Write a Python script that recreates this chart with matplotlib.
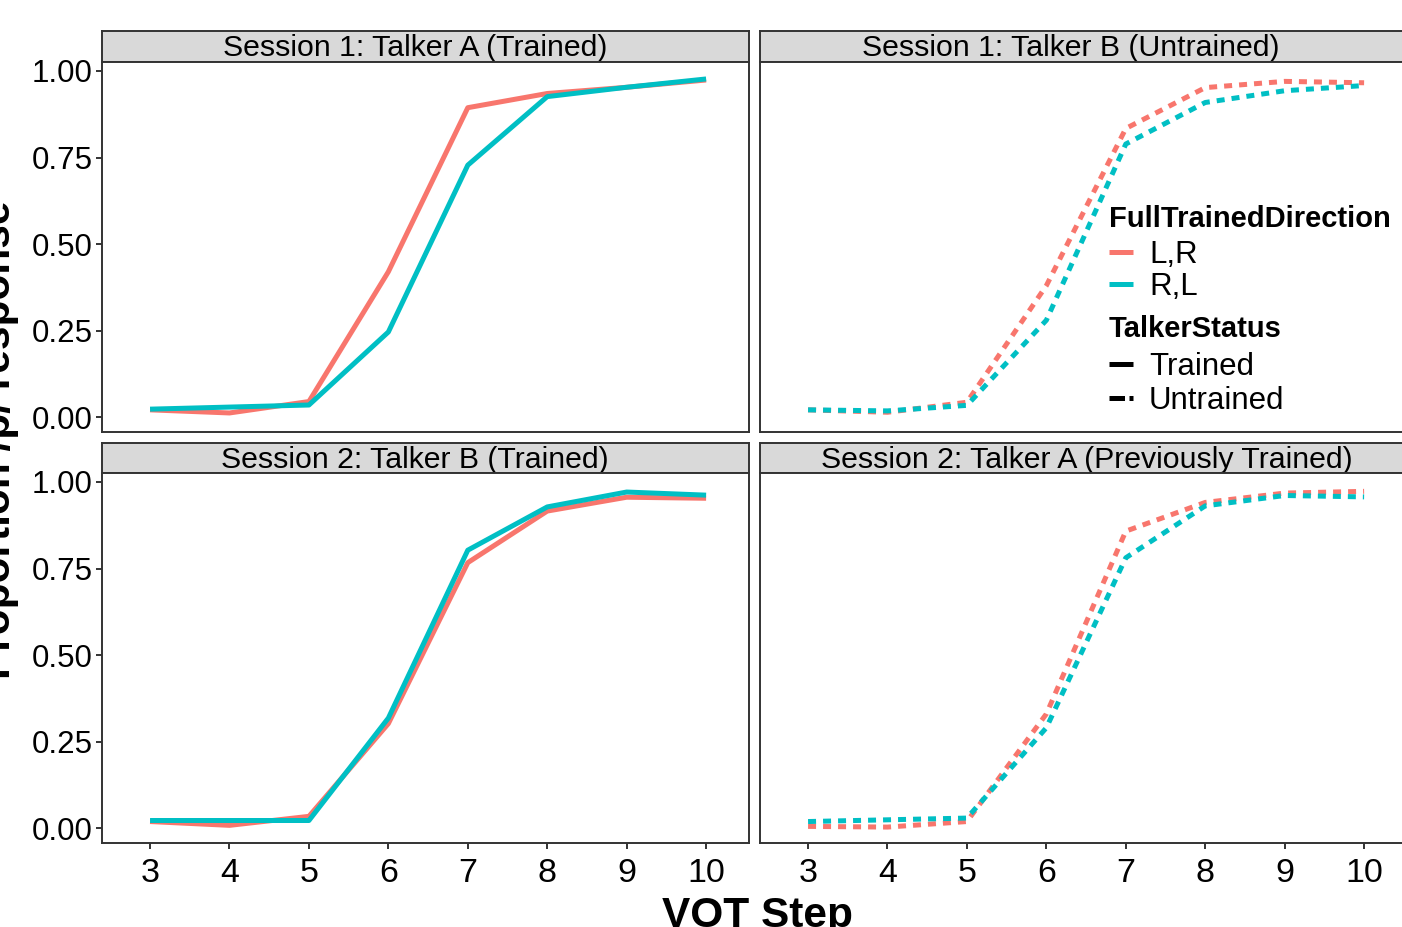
import matplotlib
matplotlib.use("Agg")
import matplotlib.pyplot as plt
from matplotlib.lines import Line2D

plt.rcParams['font.family'] = ['Liberation Sans', 'DejaVu Sans']

# ---- data ------------------------------------------------------------
steps = [3, 4, 5, 6, 7, 8, 9, 10]
directions = ['L,R', 'R,L']
statuses = ['Trained', 'Untrained']
yticks = [0.00, 0.25, 0.50, 0.75, 1.00]
ytick_labels = ['0.00', '0.25', '0.50', '0.75', '1.00']

titles = ['Session 1: Talker A (Trained)', 'Session 1: Talker B (Untrained)',
          'Session 2: Talker B (Trained)', 'Session 2: Talker A (Previously Trained)']
panel_status = ['Trained', 'Untrained', 'Trained', 'Untrained']

# proportion /p/ per step, one list per direction and panel
s1_talkerA_lr = [0.021, 0.012, 0.045, 0.420, 0.894, 0.935, 0.953, 0.974]
s1_talkerA_rl = [0.023, 0.029, 0.035, 0.246, 0.728, 0.926, 0.953, 0.977]
s1_talkerB_lr = [0.021, 0.014, 0.043, 0.380, 0.834, 0.952, 0.970, 0.966]
s1_talkerB_rl = [0.021, 0.018, 0.034, 0.280, 0.789, 0.909, 0.943, 0.958]
s2_talkerB_lr = [0.019, 0.008, 0.034, 0.302, 0.767, 0.916, 0.956, 0.953]
s2_talkerB_rl = [0.022, 0.022, 0.022, 0.318, 0.803, 0.928, 0.971, 0.962]
s2_talkerA_lr = [0.005, 0.003, 0.019, 0.330, 0.858, 0.941, 0.968, 0.973]
s2_talkerA_rl = [0.019, 0.024, 0.029, 0.290, 0.781, 0.931, 0.961, 0.957]

panel_data = [(s1_talkerA_lr, s1_talkerA_rl), (s1_talkerB_lr, s1_talkerB_rl),
              (s2_talkerB_lr, s2_talkerB_rl), (s2_talkerA_lr, s2_talkerA_rl)]

# ---- styling ---------------------------------------------------------
colors = {'L,R': '#F8766D', 'R,L': '#00BFC4'}
border = '#333333'
LW = 3.6
DASH = (1.6, 1.4)
W, H = 1402, 927

fig = plt.figure(figsize=(W / 100, H / 100), dpi=100)


def px_axes(left, top, right, bottom):
    return fig.add_axes([left / W, 1 - bottom / H, (right - left) / W, (bottom - top) / H])


cols = [(102, 749), (760, 1407)]
rows = [((31, 62), (62, 432)), ((443, 473), (473, 843))]
strip_centers = [0.484, 0.481, 0.484, 0.505]

axes = []
for i in range(4):
    r, c = divmod(i, 2)
    (st, sb), (pt, pb) = rows[r]
    left, right = cols[c]

    # facet strip
    sax = px_axes(left, st, right, sb)
    sax.set_facecolor('#D9D9D9')
    sax.set_xticks([])
    sax.set_yticks([])
    for sp in sax.spines.values():
        sp.set_color(border)
        sp.set_linewidth(1.4)
    sax.text(strip_centers[i], 0.44, titles[i], ha='center', va='center',
             fontsize=21.8, transform=sax.transAxes)

    ax = px_axes(left, pt, right, pb)
    lr, rl = panel_data[i]
    for d, vals in zip(directions, (lr, rl)):
        if panel_status[i] == 'Trained':
            ax.plot(steps, vals, color=colors[d], lw=LW, solid_capstyle='butt')
        else:
            ax.plot(steps, vals, color=colors[d], lw=LW, dashes=DASH,
                    dash_capstyle='butt')

    ax.set_xlim(2.395, 10.54)
    ax.set_ylim(-0.043, 1.026)
    ax.set_xticks(steps)
    ax.set_yticks(yticks)
    ax.set_yticklabels(ytick_labels)
    for sp in ax.spines.values():
        sp.set_color(border)
        sp.set_linewidth(1.4)
    ax.tick_params(axis='both', direction='out', length=4, width=1.4, color=border)
    ax.tick_params(axis='x', labelsize=24.5, pad=6.5)
    ax.tick_params(axis='y', labelsize=22.5, pad=2.5)
    if c == 1:
        ax.tick_params(axis='y', left=False, labelleft=False)
    if r == 0:
        ax.tick_params(axis='x', bottom=False, labelbottom=False)
    axes.append(ax)

# ---- legends inside the top-right panel -------------------------------
ax_leg = axes[1]
leg_kw = dict(loc='upper left', bbox_transform=fig.transFigure, frameon=False,
              fontsize=22.5, title_fontproperties={'weight': 'bold', 'size': 21},
              alignment='left', handlelength=0.78, handletextpad=0.5,
              borderpad=0, borderaxespad=0)

dir_handles = [Line2D([], [], color=colors[d], lw=LW, solid_capstyle='butt') for d in directions]
leg1 = ax_leg.legend(dir_handles, directions, title='FullTrainedDirection',
                     bbox_to_anchor=(1109 / W, 1 - 205 / H), labelspacing=0.07, **leg_kw)
leg1._legend_box.sep = 5
ax_leg.add_artist(leg1)

status_handles = [Line2D([], [], color='black', lw=LW, solid_capstyle='butt'),
                  Line2D([], [], color='black', lw=LW, dashes=(3.1, 0.9),
                         dash_capstyle='butt')]
leg2 = ax_leg.legend(status_handles, statuses, title='TalkerStatus',
                     bbox_to_anchor=(1109 / W, 1 - 315 / H), labelspacing=0.12, **leg_kw)
leg2._legend_box.sep = 6.5

# ---- axis titles (partly cut off by the canvas, as in the reference) ---
fig.text(758 / W, 0.0, 'VOT Step', ha='center', va='baseline',
         fontsize=30.5, fontweight='bold')
fig.text(-1 / W, 1 - 440 / H, 'Proportion /p/ response', rotation=90,
         ha='center', va='center', fontsize=30.5, fontweight='bold')

fig.savefig('out.png', dpi=100)
